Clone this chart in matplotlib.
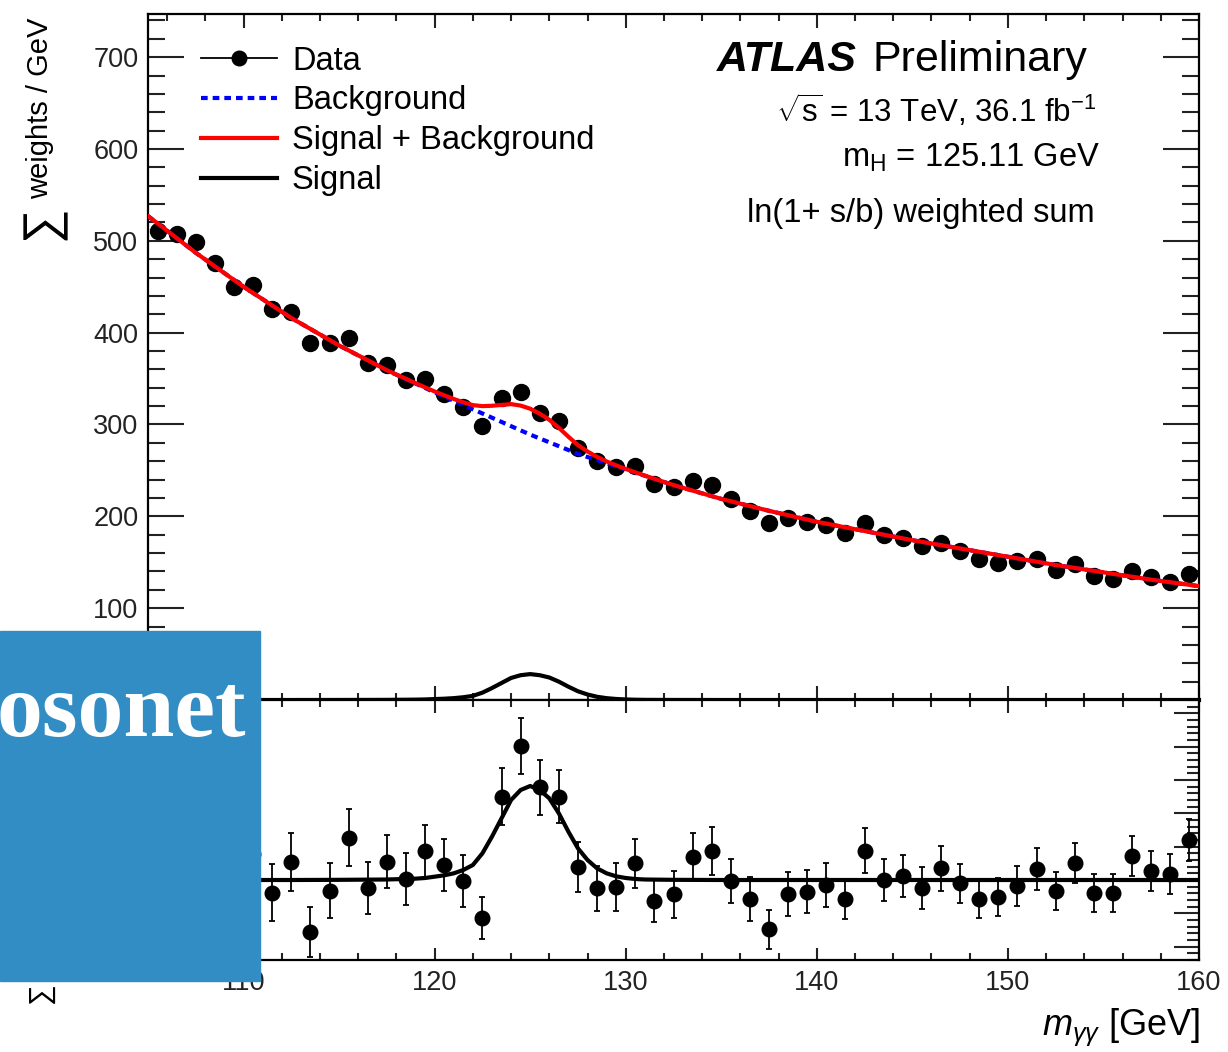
import numpy as np
import matplotlib
matplotlib.use("Agg")
import matplotlib.pyplot as plt
from matplotlib.lines import Line2D
from matplotlib.patches import Rectangle
from matplotlib.ticker import MultipleLocator, FixedLocator

plt.rcParams["font.family"] = ["Liberation Sans", "DejaVu Sans"]
plt.rcParams["mathtext.fontset"] = "custom"
plt.rcParams["mathtext.rm"] = "Liberation Sans"
plt.rcParams["mathtext.it"] = "Liberation Sans:italic"
plt.rcParams["mathtext.bf"] = "Liberation Sans:bold"

# bin centres (1 GeV bins)
mass = np.arange(105.5, 160.0, 1.0)

# sum of weights per GeV
weights = [
    511, 507, 499, 476, 450, 452, 426, 423, 389, 389,
    394, 367, 365, 348, 349, 333, 319, 298, 329, 335,
    313, 304, 274, 260, 254, 255, 235, 232, 239, 234,
    219, 206, 193, 198, 194, 191, 182, 193, 180, 176,
    168, 171, 162, 153, 149, 151, 153, 142, 148, 135,
    132, 141, 134, 129, 137,
]

# data minus background
resid = [
    -8.0, 4.5, 12.0, 3.5, -7.5, 7.8, -3.8, 5.5, -15.7, -3.2,
    12.7, -2.3, 5.5, 0.2, 8.8, 4.5, -0.3, -11.5, 25.0, 40.2,
    27.8, 25.0, 4.0, -2.5, -2.2, 5.0, -6.2, -4.3, 7.0, 8.8,
    -0.2, -5.8, -14.8, -4.2, -3.5, -1.5, -5.8, 8.8, 0.0, 1.3,
    -2.5, 3.5, -1.0, -5.7, -5.2, -1.7, 3.2, -3.2, 5.2, -3.8,
    -3.8, 7.2, 2.7, 1.7, 12.0,
]

errors = [
    9.0, 9.0, 8.8, 8.8, 8.7, 8.7, 8.6, 8.7, 7.5, 8.2,
    8.6, 7.8, 8.0, 7.8, 7.8, 7.8, 7.8, 6.3, 8.5, 8.5,
    8.2, 8.0, 7.5, 6.8, 7.2, 7.3, 6.4, 7.0, 7.1, 7.2,
    6.6, 6.6, 5.8, 6.6, 6.5, 6.6, 5.9, 6.7, 6.2, 6.3,
    6.3, 6.7, 5.9, 5.8, 5.7, 6.0, 6.3, 5.7, 6.0, 5.7,
    5.7, 6.0, 6.1, 6.0, 6.3,
]

# fitted curves
curve_x = [
    105, 107.5, 110, 112.5, 115, 117.5,
    119, 119.5, 120, 120.5, 121, 121.5, 122, 122.5, 123, 123.5,
    124, 124.5, 125, 125.5, 126, 126.5, 127, 127.5, 128, 128.5,
    129, 129.5, 130, 130.5, 131,
    132.5, 135, 137.5, 140, 142.5, 145, 147.5, 150, 152.5, 155, 157.5, 160,
]
bkg_curve = [
    527, 487, 450, 416, 386, 359,
    344.6, 339.8, 335, 330.4, 325.8, 321.2, 316.6, 312, 307.4, 302.8,
    298.2, 293.6, 289, 284.8, 280.6, 276.4, 272.2, 268, 264.6, 261.2,
    257.8, 254.4, 251, 247.6, 244.2,
    234, 219, 206, 194, 184, 174, 165, 156, 147, 139, 131, 124,
]
sig_curve = [
    0, 0, 0, 0, 0.05, 0.15,
    0.4, 0.6, 1.0, 1.4, 2.0, 3.0, 4.5, 8.0, 13.0, 18.5,
    24.0, 27.0, 28.2, 27.0, 24.5, 20.0, 14.5, 9.5, 6.0, 3.5,
    2.0, 1.1, 0.6, 0.3, 0.15,
    0.05, 0, 0, 0, 0, 0, 0, 0, 0, 0, 0, 0,
]

upper_ticks = [100, 200, 300, 400, 500, 600, 700]

W, H = 1228, 1052


def fx(px):
    return px / W


def fy(py):
    return 1 - py / H


fig = plt.figure(figsize=(W / 100, H / 100), dpi=100)
ax1 = fig.add_axes([fx(148), fy(700), fx(1199) - fx(148), fy(14) - fy(700)])
ax2 = fig.add_axes([fx(148), fy(960), fx(1199) - fx(148), fy(700) - fy(960)])

sb_curve = np.array(bkg_curve) + np.array(sig_curve)

# upper panel
ax1.errorbar(mass, weights, yerr=errors, fmt="o", color="k", ms=11.5,
             elinewidth=1.3, capsize=0, zorder=3)
ax1.plot(curve_x, bkg_curve, color="blue", lw=3, ls=(0, (1.6, 1.2)), zorder=4)
ax1.plot(curve_x, sb_curve, color="red", lw=3, zorder=5)
ax1.plot(curve_x, sig_curve, color="black", lw=3, zorder=5, clip_on=False)
ax1.set_xlim(105, 160)
ax1.set_ylim(0, 747)

# lower panel
ax2.errorbar(mass, resid, yerr=errors, fmt="o", color="k", ms=10.5,
             elinewidth=1.3, capsize=2.5, capthick=1.3, zorder=3)
ax2.plot(curve_x, sig_curve, color="black", lw=3, zorder=4)
ax2.set_xlim(105, 160)
ax2.set_ylim(-24, 54)

for ax in (ax1, ax2):
    for s in ax.spines.values():
        s.set_linewidth(1.6)
    ax.xaxis.set_major_locator(MultipleLocator(10))
    ax.xaxis.set_minor_locator(MultipleLocator(2))
    ax.tick_params(which="both", direction="in", top=True, right=True,
                   labelsize=19.5, width=1.5, colors="#222222")

ax1.yaxis.set_major_locator(FixedLocator(upper_ticks))
ax1.yaxis.set_minor_locator(MultipleLocator(20))
ax1.tick_params(axis="y", which="major", length=26, pad=7)
ax1.tick_params(axis="y", which="minor", length=12)
ax1.tick_params(axis="x", which="major", length=10)
ax1.tick_params(axis="x", which="minor", length=5)
ax1.tick_params(labelbottom=False)

# lower-panel y labels sit entirely under the blue block in the reference
ax2.yaxis.set_major_locator(MultipleLocator(10))
ax2.yaxis.set_minor_locator(MultipleLocator(2))
ax2.tick_params(axis="y", which="major", length=18, labelleft=False)
ax2.tick_params(axis="y", which="minor", length=9)
ax2.tick_params(axis="x", which="major", length=9, pad=7)
ax2.tick_params(axis="x", which="minor", length=5)

# legend
handles = [
    Line2D([], [], color="k", lw=1.3, marker="o", ms=10.5),
    Line2D([], [], color="blue", lw=3, ls=(0, (1.6, 1.2))),
    Line2D([], [], color="red", lw=3),
    Line2D([], [], color="black", lw=3),
]
labels = ["Data", "Background", "Signal + Background", "Signal"]
ax1.legend(handles, labels, loc="upper left", bbox_to_anchor=(0.0504, 0.954),
           frameon=False, fontsize=23.5, handlelength=2.33, handletextpad=0.46,
           labelspacing=0.27, borderpad=0, borderaxespad=0, numpoints=1)

# ATLAS labels
fig.text(fx(857), fy(71), "ATLAS", fontsize=31, fontweight="bold",
         fontstyle="italic", ha="right", va="baseline")
fig.text(fx(873), fy(71), "Preliminary", fontsize=31, ha="left", va="baseline")
fig.text(fx(1096), fy(122), r"$\sqrt{\mathrm{s}}$ = 13 TeV, 36.1 fb$^{-1}$",
         fontsize=22.5, ha="right", va="baseline")
fig.text(fx(1100), fy(167), r"m$_{\mathrm{H}}$ = 125.11 GeV",
         fontsize=23.5, ha="right", va="baseline")
fig.text(fx(1095), fy(222), "ln(1+ s/b) weighted sum",
         fontsize=23.5, ha="right", va="baseline")

# axis titles
fig.text(fx(40), fy(18), "weights / GeV", rotation=90, fontsize=21,
         ha="center", va="top")
fig.text(fx(43), fy(223), "\u2211", rotation=90, fontsize=35,
         ha="center", va="center")
fig.text(fx(42), fy(1005), "\u2211 weights - Bkg", rotation=90, fontsize=21,
         ha="center", va="bottom")
fig.text(fx(1200), fy(1036), r"$m_{\gamma\gamma}$ [GeV]", fontsize=26,
         ha="right", va="baseline")

# watermark block over the lower left corner
fig.patches.append(Rectangle((0, fy(981)), fx(260), fy(631) - fy(981),
                             transform=fig.transFigure, color="#318dc4",
                             zorder=10))
fig.text(fx(246), fy(736), "osonet", fontsize=66, fontweight="bold",
         family="Liberation Serif", color="white", ha="right", va="baseline",
         zorder=11)

fig.savefig("out.png", dpi=100)
